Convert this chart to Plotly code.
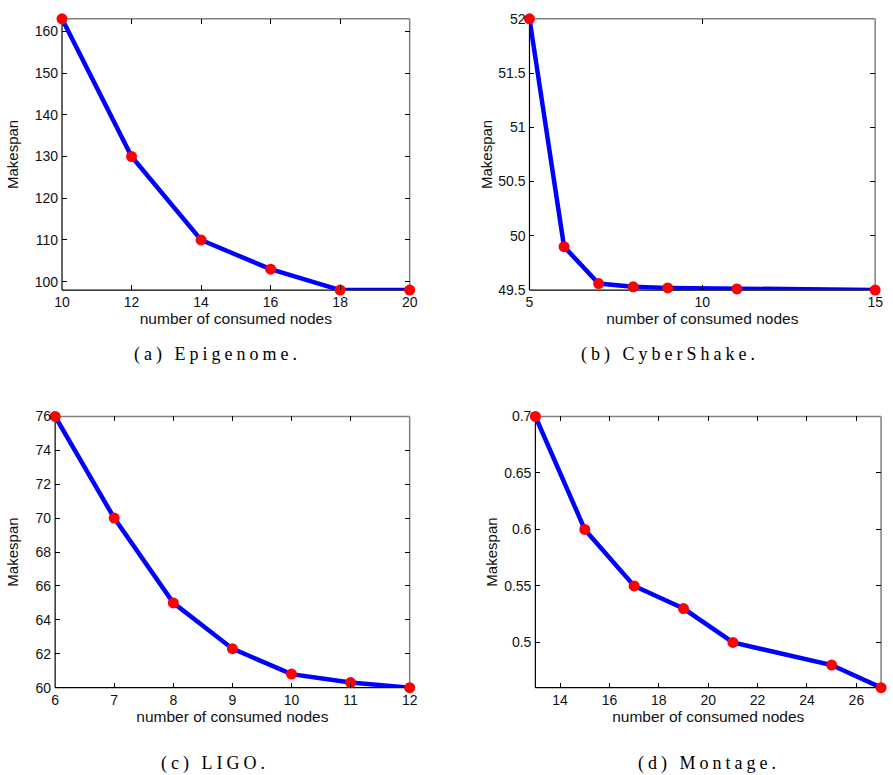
import plotly.graph_objects as go

# ---- data ----
epi_x = [10, 12, 14, 16, 18, 20]
epi_y = [163, 130, 110, 103, 98, 98]
cyb_x = [5, 6, 7, 8, 9, 11, 15]
cyb_y = [52, 49.9, 49.56, 49.53, 49.52, 49.51, 49.5]
ligo_x = [6, 7, 8, 9, 10, 11, 12]
ligo_y = [76, 70, 65, 62.3, 60.8, 60.3, 60]
mon_x = [13, 15, 17, 19, 21, 25, 27]
mon_y = [0.7, 0.6, 0.55, 0.53, 0.5, 0.48, 0.46]

epi_xticks = [10, 12, 14, 16, 18, 20]
epi_yticks = [100, 110, 120, 130, 140, 150, 160]
cyb_xticks = [5, 10, 15]
cyb_yticks = [49.5, 50, 50.5, 51, 51.5, 52]
cyb_yticktext = ["49.5", "50", "50.5", "51", "51.5", "52"]
ligo_xticks = [6, 7, 8, 9, 10, 11, 12]
ligo_yticks = [60, 62, 64, 66, 68, 70, 72, 74, 76]
mon_xticks = [14, 16, 18, 20, 22, 24, 26]
mon_yticks = [0.5, 0.55, 0.6, 0.65, 0.7]

captions = ["(a) Epigenome.", "(b) CyberShake.", "(c) LIGO.", "(d) Montage."]
x_title = "number of consumed nodes"
y_title = "Makespan"

W, H = 893, 775

# plot-area boxes in pixels: (left, right, top, bottom)
boxes = [
    (55, 409, 11, 288),
    (531, 883, 11, 288),
    (48, 409, 417, 694),
    (537, 889, 417, 694),
]
ranges = [
    ((10, 20), (98, 163)),
    ((5, 15), (49.5, 52)),
    ((6, 12), (60, 76)),
    ((13, 27), (0.46, 0.70)),
]
series = [(epi_x, epi_y), (cyb_x, cyb_y), (ligo_x, ligo_y), (mon_x, mon_y)]
xticks = [epi_xticks, cyb_xticks, ligo_xticks, mon_xticks]
yticks = [epi_yticks, cyb_yticks, ligo_yticks, mon_yticks]
yticktext = [[str(v) for v in epi_yticks], cyb_yticktext,
             [str(v) for v in ligo_yticks], [str(v) for v in mon_yticks]]
ystandoff = [12, 1, 13, 2]
cap_pos = [(213, 354), (674, 354), (211, 771), (714, 771)]

fig = go.Figure()
font_sans = "Liberation Sans, Arial, sans-serif"
shapes = []
annotations = []
for i in range(4):
    xs, ys = series[i]
    sfx = "" if i == 0 else str(i + 1)
    fig.add_trace(go.Scatter(
        x=xs, y=ys, mode="lines+markers",
        line=dict(color="#0000ff", width=4.5),
        marker=dict(color="#ff0000", size=11),
        cliponaxis=False, showlegend=False,
        xaxis="x" + sfx, yaxis="y" + sfx,
    ))
    l, r, t, b = boxes[i]
    xd = [l / W, r / W]
    yd = [1 - b / H, 1 - t / H]
    common = dict(showgrid=False, zeroline=False, showline=False,
                  ticks="inside", ticklen=5, tickwidth=1, tickcolor="#000",
                  mirror="ticks", ticklabeloverflow="allow",
                  tickfont=dict(family=font_sans, size=14, color="#111"))
    fig.layout["xaxis" + sfx] = dict(
        domain=xd, range=list(ranges[i][0]), anchor="y" + sfx,
        tickvals=xticks[i], ticktext=[str(v) for v in xticks[i]],
        ticklabelstandoff=2,
        title=dict(text=x_title, standoff=0,
                   font=dict(family=font_sans, size=15.5, color="#111")),
        **common)
    fig.layout["yaxis" + sfx] = dict(
        domain=yd, range=list(ranges[i][1]), anchor="x" + sfx,
        tickvals=yticks[i], ticktext=yticktext[i],
        ticklabelstandoff=3,
        title=dict(text=y_title, standoff=ystandoff[i],
                   font=dict(family=font_sans, size=15, color="#111")),
        **common)
    # frame: black left/bottom, gray top/right
    x0, x1 = xd
    y0, y1 = yd
    shapes += [
        dict(type="line", xref="paper", yref="paper", x0=x0, x1=x1, y0=y1, y1=y1,
             line=dict(color="#808080", width=1.5), layer="below"),
        dict(type="line", xref="paper", yref="paper", x0=x1, x1=x1, y0=y0, y1=y1,
             line=dict(color="#808080", width=1.5), layer="below"),
        dict(type="line", xref="paper", yref="paper", x0=x0, x1=x1, y0=y0, y1=y0,
             line=dict(color="#000000", width=1.2), layer="below"),
        dict(type="line", xref="paper", yref="paper", x0=x0, x1=x0, y0=y0, y1=y1,
             line=dict(color="#000000", width=1.2), layer="below"),
    ]
    cx, cy = cap_pos[i]
    annotations.append(dict(
        text='<span style="letter-spacing:4px">' + captions[i] + '</span>',
        x=cx / W, y=1 - cy / H, xref="paper", yref="paper",
        xanchor="center", yanchor="middle", showarrow=False,
        font=dict(family="Liberation Serif, serif", size=18, color="#000"),
    ))

fig.update_layout(
    width=W, height=H, margin=dict(l=0, r=0, t=0, b=0),
    paper_bgcolor="white", plot_bgcolor="white",
    shapes=shapes, annotations=annotations,
)
fig.write_html(
    "out.html",
    config={"displayModeBar": False},
    post_script="document.body.style.margin='0';document.body.style.overflow='hidden';",
)
